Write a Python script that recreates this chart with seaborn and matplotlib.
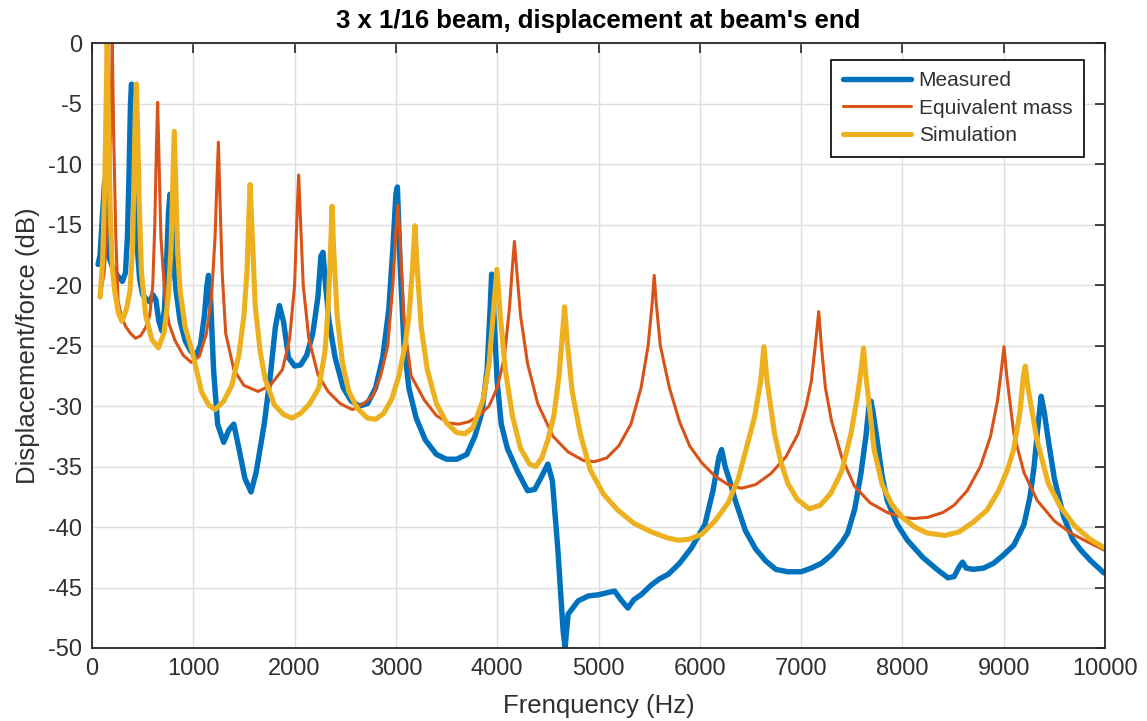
import matplotlib
matplotlib.use("Agg")
import matplotlib.pyplot as plt
import numpy as np
import pandas as pd
import seaborn as sns

# Frequency response of the beam end: displacement/force in dB
measured_freq = [60, 80, 105, 125, 140, 160, 200, 250, 300, 330, 350, 365, 380, 390, 400, 415,
                 440, 470, 500, 540, 570, 600, 630, 660, 690, 715, 735, 755, 770, 785, 800, 830,
                 870, 920, 970, 1020, 1070, 1110, 1135, 1150, 1170, 1200, 1240, 1300, 1350, 1400,
                 1450, 1510, 1570, 1620, 1700, 1760, 1810, 1850, 1890, 1940, 2000, 2060, 2120,
                 2180, 2230, 2260, 2280, 2300, 2340, 2400, 2480, 2560, 2640, 2720, 2800, 2870,
                 2930, 2970, 3000, 3015, 3040, 3080, 3130, 3200, 3290, 3400, 3500, 3600, 3700,
                 3780, 3850, 3900, 3930, 3945, 3965, 4000, 4040, 4100, 4200, 4300, 4370, 4440,
                 4500, 4545, 4600, 4650, 4670, 4700, 4800, 4900, 5000, 5100, 5160, 5220, 5290,
                 5350, 5420, 5520, 5600, 5690, 5800, 5920, 6050, 6130, 6190, 6215, 6250, 6300,
                 6350, 6450, 6550, 6650, 6750, 6870, 7000, 7100, 7200, 7300, 7400, 7460, 7530,
                 7590, 7640, 7670, 7690, 7710, 7750, 7800, 7850, 7950, 8050, 8200, 8340, 8450,
                 8510, 8560, 8594, 8630, 8700, 8800, 8900, 9000, 9100, 9200, 9260, 9300, 9340,
                 9370, 9400, 9440, 9500, 9590, 9680, 9760, 9860, 9990]
measured_db = [-18.3, -17.5, -14, -11.4, -15, -17.5, -18.5, -19.2, -19.7, -19, -16, -11, -5, -3.4,
               -6, -12, -16.1, -19.5, -20.8, -21.2, -21.4, -20.8, -21.2, -23, -23.8, -22, -18.5,
               -14, -12.5, -14, -17.5, -20.5, -23, -24.6, -25.4, -25.9, -25, -22.5, -20, -19.2,
               -21, -27, -31.5, -33, -32, -31.5, -33.5, -36, -37.1, -35.5, -31.5, -27.5, -23.5,
               -21.7, -23, -26, -26.7, -26.6, -25.8, -24, -21, -17.6, -17.3, -19.5, -23, -26,
               -28.5, -29.6, -30, -29.8, -28.5, -26, -22, -17, -12.5, -11.9, -18, -25, -28.6,
               -31, -32.8, -34, -34.4, -34.4, -34, -32.5, -30.5, -27, -22, -19.1, -22, -28,
               -31.5, -33.5, -35.4, -37, -36.9, -35.8, -34.8, -36.2, -42, -48.5, -50, -47.2,
               -46.1, -45.7, -45.6, -45.4, -45.3, -46, -46.7, -46, -45.6, -44.8, -44.3, -43.9,
               -43, -41.7, -39.8, -37, -34.2, -33.6, -35, -36.3, -37.8, -40.3, -41.8, -42.8,
               -43.5, -43.7, -43.7, -43.4, -43, -42.3, -41.3, -40.5, -38.5, -35.6, -32.5, -30,
               -29.6, -30.5, -32.8, -35.8, -37.8, -39.8, -41.1, -42.5, -43.5, -44.2, -44.1,
               -43.3, -42.9, -43.4, -43.5, -43.4, -43, -42.3, -41.5, -39.8, -37.5, -35, -31.5,
               -29.2, -30.5, -32.8, -36, -39.1, -41, -41.9, -42.8, -43.8]

equiv_freq = [80, 120, 160, 185, 200, 215, 235, 257, 290, 330, 380, 430, 480, 530, 570, 600, 620,
              635, 648, 660, 680, 720, 760, 820, 900, 980, 1060, 1130, 1180, 1215, 1235, 1248,
              1260, 1285, 1320, 1400, 1500, 1640, 1760, 1880, 1950, 2000, 2025, 2040, 2055,
              2085, 2140, 2230, 2330, 2450, 2570, 2680, 2770, 2850, 2920, 2970, 3000, 3020,
              3040, 3080, 3150, 3280, 3400, 3520, 3620, 3720, 3820, 3920, 4000, 4070, 4120,
              4150, 4170, 4190, 4230, 4300, 4400, 4550, 4700, 4850, 4960, 5080, 5200, 5320,
              5420, 5490, 5530, 5550, 5570, 5610, 5700, 5800, 5900, 6020, 6150, 6280, 6410,
              6550, 6700, 6850, 6970, 7050, 7100, 7140, 7174, 7200, 7240, 7300, 7400, 7525,
              7680, 7850, 8000, 8115, 8250, 8400, 8510, 8640, 8770, 8870, 8940, 8980, 9003,
              9030, 9100, 9200, 9330, 9500, 9660, 9820, 9990]
equiv_db = [-21, -19, -14, -7, 0, -8, -16, -21.3, -22.6, -23.4, -24, -24.4, -24.2, -23.5, -22.5,
            -20, -15, -9, -4.9, -9, -16, -21, -23.2, -24.6, -25.8, -26.4, -25.9, -24, -21, -16,
            -11, -8.2, -12, -19, -24, -27, -28.3, -28.8, -28.3, -27, -24.5, -20, -14, -10.9,
            -14, -20, -24.4, -27.4, -28.8, -29.8, -30.3, -29.8, -29.2, -27.5, -25, -20, -15.5,
            -13.4, -16, -23, -27.5, -29.5, -30.8, -31.4, -31.5, -31.3, -30.8, -30, -28.5, -26,
            -22, -18.5, -16.4, -18.5, -22.5, -26.5, -29.8, -32.5, -33.8, -34.5, -34.6, -34.3,
            -33.3, -31.5, -28.5, -25, -21.5, -19.2, -21.5, -25, -28.5, -31.3, -33.3, -34.7,
            -35.8, -36.5, -36.8, -36.5, -35.6, -34.2, -32.3, -30, -28, -25, -22.2, -25, -28.5,
            -31.2, -34.2, -36.6, -38, -38.8, -39.2, -39.3, -39.2, -38.8, -38.2, -37, -35,
            -32.5, -29.5, -26.8, -25.1, -27.5, -32.3, -35.5, -37.8, -39.5, -40.5, -41.2, -41.9]

sim_freq = [80, 105, 125, 140, 150, 162, 180, 200, 224, 260, 295, 340, 375, 400, 415, 428, 438,
            450, 465, 488, 530, 590, 655, 710, 752, 780, 800, 812, 825, 845, 870, 920, 990,
            1080, 1150, 1215, 1300, 1380, 1450, 1500, 1530, 1550, 1561, 1575, 1611, 1660, 1710,
            1800, 1890, 1974, 2060, 2150, 2240, 2300, 2330, 2355, 2370, 2385, 2420, 2470, 2535,
            2620, 2720, 2800, 2880, 2960, 3030, 3090, 3130, 3165, 3188, 3210, 3250, 3310, 3400,
            3500, 3600, 3680, 3760, 3860, 3920, 3960, 3997, 4030, 4080, 4150, 4230, 4320, 4380,
            4440, 4500, 4560, 4610, 4640, 4665, 4690, 4740, 4820, 4920, 5050, 5190, 5350, 5520,
            5680, 5790, 5900, 6020, 6150, 6280, 6380, 6450, 6541, 6600, 6633, 6665, 6738, 6800,
            6869, 6960, 7080, 7190, 7295, 7400, 7492, 7560, 7600, 7616, 7640, 7721, 7800, 7900,
            8000, 8120, 8246, 8420, 8560, 8700, 8836, 8950, 9040, 9098, 9160, 9195, 9213, 9240,
            9328, 9440, 9557, 9700, 9850, 9990]
sim_db = [-21, -18, -12, -5, 0, -6, -14, -18.5, -20.5, -22.3, -23, -22, -20.5, -17, -11, -5.5,
          -3.4, -7, -13, -18.9, -22.5, -24.5, -25.2, -24, -21.1, -17, -11, -7.3, -11, -17, -20.5,
          -23.5, -25.5, -28.8, -29.9, -30.3, -29.6, -28.3, -25.8, -22.5, -18.9, -14, -11.7,
          -14.5, -21.7, -25.5, -27.8, -29.9, -30.7, -31, -30.6, -29.8, -28.5, -25.5, -22, -17,
          -13.5, -17, -22.5, -26.3, -28.8, -30.2, -31, -31.1, -30.6, -29.4, -27.5, -25, -22.5,
          -18.5, -15.1, -18.5, -23.5, -27, -29.8, -31.4, -32.2, -32.3, -31.8, -29.5, -26.5,
          -22.5, -18.7, -22.5, -27, -30.8, -33.5, -34.8, -35, -34.3, -32.8, -30.8, -27.5, -24.5,
          -21.8, -24.5, -28.8, -32.3, -35.3, -37.3, -38.6, -39.7, -40.4, -40.9, -41.1, -41,
          -40.6, -39.5, -38, -36, -33.8, -30.9, -28, -25.1, -28, -32.3, -34.6, -36.4, -37.7,
          -38.5, -38.2, -37.2, -35.4, -32.3, -29, -26.5, -25.2, -27.5, -33.6, -36.5, -38.2,
          -39.2, -40, -40.5, -40.7, -40.4, -39.6, -38.6, -37, -35.2, -33.6, -30.5, -27.5, -26.7,
          -28.5, -32.8, -36.4, -38.3, -39.9, -41, -41.7]

x_ticks = [0, 1000, 2000, 3000, 4000, 5000, 6000, 7000, 8000, 9000, 10000]
y_ticks = [0, -5, -10, -15, -20, -25, -30, -35, -40, -45, -50]

series = [
    ("Measured", measured_freq, measured_db, "#0072BD", 3.9),
    ("Equivalent mass", equiv_freq, equiv_db, "#D95319", 2.2),
    ("Simulation", sim_freq, sim_db, "#EDB120", 3.7),
]

sns.set_theme(style="whitegrid")
plt.rcParams["font.family"] = ["Liberation Sans", "DejaVu Sans"]
plt.rcParams["axes.unicode_minus"] = False

text_color = "#303030"
fig = plt.figure(figsize=(11.47, 7.21), dpi=100, facecolor="white")
ax = fig.add_axes([92 / 1147, 1 - 648 / 721, 1013 / 1147, 605 / 721])
ax.set_facecolor("white")

for name, f, db, color, lw in series:
    frame = pd.DataFrame({"Frequency": f, "Level": db})
    sns.lineplot(data=frame, x="Frequency", y="Level", ax=ax, color=color,
                 linewidth=lw, label=name, estimator=None, sort=False)

ax.set_xlim(0, 10000)
ax.set_ylim(-50, 0)
ax.set_xticks(x_ticks)
ax.set_yticks(y_ticks)
ax.set_xticklabels([str(v) for v in x_ticks])
ax.set_yticklabels([str(v) for v in y_ticks])

ax.grid(True, color="#dedede", linewidth=1.0)
for side in ["left", "right", "top", "bottom"]:
    ax.spines[side].set_visible(True)
    ax.spines[side].set_color("#262626")
    ax.spines[side].set_linewidth(1.3)
ax.tick_params(axis="both", which="major", direction="in", length=7, width=1.2,
               colors="#262626", labelcolor=text_color, labelsize=17,
               top=True, right=True, pad=7)

ax.set_title("3 x 1/16 beam, displacement at beam's end", fontsize=18.5,
             fontweight="bold", color="black", pad=11)
ax.set_xlabel("Frenquency (Hz)", fontsize=18.5, color=text_color, labelpad=10)
ax.set_ylabel("Displacement/force (dB)", fontsize=18.5, color=text_color, labelpad=6)

leg = ax.legend(loc="upper right", bbox_to_anchor=(0.979, 0.972), fontsize=15,
                frameon=True, fancybox=False, shadow=False, framealpha=1,
                edgecolor="black", borderpad=0.55, labelspacing=0.4,
                handlelength=3.3, handletextpad=0.35, borderaxespad=0)
leg.get_frame().set_linewidth(1.2)
for t in leg.get_texts():
    t.set_color(text_color)

fig.savefig("out.png", dpi=100, facecolor="white")
